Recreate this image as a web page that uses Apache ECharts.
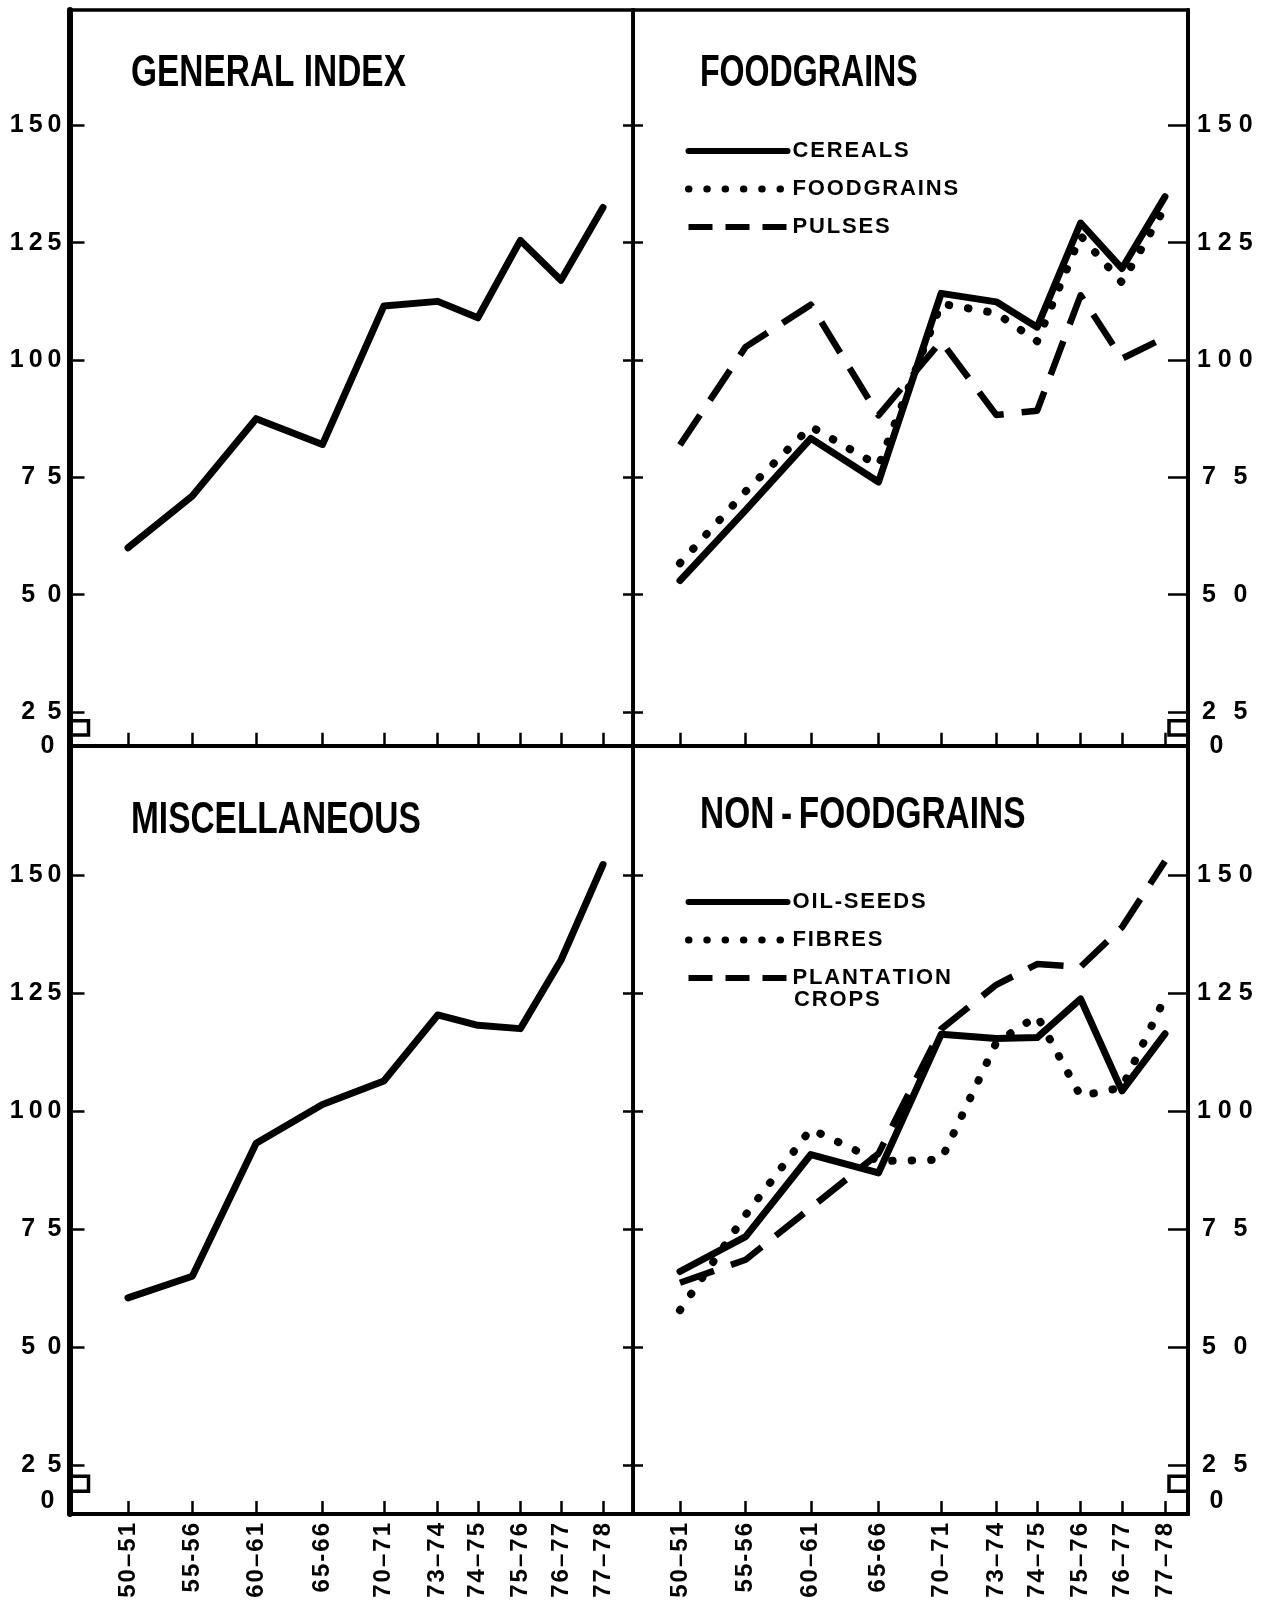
<!DOCTYPE html>
<html><head><meta charset="utf-8">
<script src="https://cdn.jsdelivr.net/npm/echarts@6/dist/echarts.min.js"></script>
<style>html,body{margin:0;padding:0;background:#fff}#c{width:1270px;height:1601px}</style>
</head><body><div id="c"></div>
<script>
// ---------- data ----------
const periods = ['50–51','55-56','60–61','65-66','70–71','73–74','74–75','75–76','76–77','77–78'];
// position of each period along the (non-uniform) time axis, in axis units
const periodPos = [0, 6.5, 12.95, 19.65, 25.85, 31.3, 35.35, 39.65, 43.75, 48];
const yTicks = [25, 50, 75, 100, 125, 150];

const generalIndex    = [60, 71, 87.5, 82, 111.5, 112.5, 109, 125.5, 117, 132.5];
const cereals         = [53, 68, 83.3, 74, 114.2, 112.4, 107, 129.2, 119.5, 134.8];
const foodgrains      = [56.7, 72, 85.8, 77.5, 112, 110, 104, 126.5, 116.5, 132.5];
const pulses          = [81.9, 102.8, 111.8, 88.2, 104, 88.3, 89.2, 113.8, 100.3, 104.8];
const miscellaneous   = [60.4, 65, 93.2, 101.4, 106.4, 120.4, 118.2, 117.5, 132, 152.3];
const oilSeeds        = [66, 73.4, 90.8, 86.9, 116.3, 115.4, 115.6, 123.8, 104.3, 116.4];
const fibres          = [57.8, 78, 96.2, 89.4, 89.7, 114.5, 120.2, 103.2, 105, 124];
const plantationCrops = [63.6, 68.5, 79.5, 91, 117.4, 126.8, 131.2, 130.6, 139, 153];

// ---------- layout / style ----------
const INK = '#000';
const FONT = "'Liberation Sans', Arial, sans-serif";
const spaced = (s, sep) => String(s).split('').join(sep);
const nearestIdx = v => { let b = 0; periodPos.forEach((p, i) => { if (Math.abs(p - v) < Math.abs(periodPos[b] - v)) b = i; }); return b; };

const L = 69.5, M = 633, R = 1188, T = 10, H = 745.7, B = 1514;
const panels = [
  {left: L, top: T, width: M - L, height: H - T, xMin: -5.91, xMax: 51.03, yMin: 17.8, yMax: 174.6, zero: 17.8, brk: [23.1, 20.1]},
  {left: M, top: T, width: R - M, height: H - T, xMin: -4.65, xMax: 50.28, yMin: 17.8, yMax: 174.6, zero: 17.8, brk: [23.1, 20.1]},
  {left: L, top: H, width: M - L, height: B - H, xMin: -5.91, xMax: 51.03, yMin: 14.57, yMax: 177.5, zero: 17.2, brk: [22.6, 19.4]},
  {left: M, top: H, width: R - M, height: B - H, xMin: -4.65, xMax: 50.28, yMin: 14.57, yMax: 177.5, zero: 17.2, brk: [22.6, 19.4]}
];

const grid = panels.map(p => ({left: p.left, top: p.top, width: p.width, height: p.height,
  show: true, borderColor: INK, borderWidth: 3.5, backgroundColor: 'transparent', containLabel: false}));

const xAxis = panels.map((p, i) => ({
  type: 'value', gridIndex: i, min: p.xMin, max: p.xMax, position: 'bottom',
  axisLine: {show: true, onZero: false, lineStyle: {color: INK, width: 4}},
  axisTick: {show: true, inside: true, length: 13, customValues: periodPos, lineStyle: {color: INK, width: 2.5}},
  axisLabel: {show: i >= 2, customValues: periodPos, rotate: 90, margin: 9, fontSize: 24, fontWeight: 'bold',
    fontFamily: FONT, color: INK, formatter: v => spaced(periods[nearestIdx(v)], '\u200A')},
  splitLine: {show: false}
}));

const leftFmt = zero => v => {
  if (Math.abs(v - zero) < 0.01) return '0\u2009\u200A';
  const s = String(v);
  return s.length === 3 ? spaced(s, '\u2009') : spaced(s, '\u2002');
};
const rightFmt = zero => v => {
  if (Math.abs(v - zero) < 0.01) return '\u2002' + '0';
  const s = String(v);
  return s.length === 3 ? spaced(s, ' ') : '\u2009' + spaced(s, '\u2002\u2009');
};
const yLabel = {show: true, margin: 8, fontSize: 25, fontWeight: 'bold', fontFamily: FONT, color: INK};
const yAxis = [];
panels.forEach((p, i) => {
  const outerLeft = (i % 2 === 0);
  yAxis.push({
    type: 'value', gridIndex: i, min: p.yMin, max: p.yMax, position: 'left',
    axisLine: {show: true, onZero: false, lineStyle: {color: INK, width: outerLeft ? 6 : 3}},
    axisTick: {show: true, inside: true, length: outerLeft ? 15 : 10, customValues: yTicks, lineStyle: {color: INK, width: 2.5}},
    axisLabel: outerLeft ? Object.assign({customValues: [p.zero].concat(yTicks), formatter: leftFmt(p.zero)}, yLabel) : {show: false},
    splitLine: {show: false}
  });
  yAxis.push({
    type: 'value', gridIndex: i, min: p.yMin, max: p.yMax, position: 'right',
    axisLine: {show: true, onZero: false, lineStyle: {color: INK, width: outerLeft ? 3 : 4}},
    axisTick: {show: true, inside: true, length: outerLeft ? 10 : 20, customValues: yTicks, lineStyle: {color: INK, width: 2.5}},
    axisLabel: outerLeft ? {show: false} : Object.assign({customValues: [p.zero].concat(yTicks), formatter: rightFmt(p.zero)}, yLabel, {margin: 9}),
    splitLine: {show: false}
  });
});

const SOLID = {width: 7, type: 'solid', cap: 'round', join: 'round'};
const DOTS  = {width: 8, type: [0.5, 19], cap: 'round', join: 'round'};
const DASH  = {width: 6.5, type: [36, 18], cap: 'butt', join: 'round'};
const line = (name, values, gi, style) => ({
  type: 'line', name, xAxisIndex: gi, yAxisIndex: gi * 2 + 1,
  data: periodPos.map((p, k) => [p, values[k]]),
  symbol: 'none', silent: true, animation: false, z: 5,
  lineStyle: Object.assign({color: INK}, style), itemStyle: {color: INK}
});

const series = [
  line('GENERAL INDEX', generalIndex, 0, SOLID),
  line('CEREALS', cereals, 1, SOLID),
  line('FOODGRAINS', foodgrains, 1, DOTS),
  line('PULSES', pulses, 1, DASH),
  line('MISCELLANEOUS', miscellaneous, 2, SOLID),
  line('OIL-SEEDS', oilSeeds, 3, SOLID),
  line('FIBRES', fibres, 3, DOTS),
  line('PLANTATION CROPS', plantationCrops, 3, DASH)
];

const legendText = {fontFamily: FONT, fontSize: 22, fontWeight: 'bold', color: INK, lineHeight: 22};
// first word stays beside the key; a second word is set on its own line below
const legendFmt = n => spaced(n.split(' ')[0], '\u200A');
const LEG_SOLID = {type: 'solid', width: 6};
const LEG_DOTS = {type: [0.5, 17.8], width: 7, cap: 'round'};
const LEG_DASH = {type: [24, 13], width: 6};
const legendBase = {orient: 'vertical', itemWidth: 99, itemHeight: 14, itemGap: 16, selectedMode: false,
  textStyle: legendText, formatter: legendFmt, itemStyle: {opacity: 0}, lineStyle: {width: 6, color: INK}};
const LEG_LEFT = 680, LEG2_TOP = 886;
const legend = [
  Object.assign({left: LEG_LEFT, top: 135, data: [
    {name: 'CEREALS', lineStyle: LEG_SOLID}, {name: 'FOODGRAINS', lineStyle: LEG_DOTS}, {name: 'PULSES', lineStyle: LEG_DASH}]}, legendBase),
  Object.assign({left: LEG_LEFT, top: LEG2_TOP, data: [
    {name: 'OIL-SEEDS', lineStyle: LEG_SOLID}, {name: 'FIBRES', lineStyle: LEG_DOTS}, {name: 'PLANTATION CROPS', lineStyle: LEG_DASH}]}, legendBase)
];

const chart = echarts.init(document.getElementById('c'));
chart.setOption({animation: false, backgroundColor: '#fff', grid, xAxis, yAxis, series, legend});

// panel titles (condensed bold), second legend line and axis-break brackets
const titleFont = "bold 44px 'Liberation Sans', Arial, sans-serif";
const titles = [
  {text: 'GENERAL INDEX', x: 131, y: 74},
  {text: 'FOODGRAINS', x: 700, y: 74, sx: 0.73},
  {text: 'MISCELLANEOUS', x: 131, y: 821},
  {text: 'NON\u2009-\u2009FOODGRAINS', x: 700, y: 816}
];
const graphic = titles.map(t => ({type: 'text', x: t.x, y: t.y, scaleX: t.sx || 0.76, silent: true, z: 20,
  style: {text: t.text, font: titleFont, fill: INK, textAlign: 'left', textVerticalAlign: 'middle'}}));
// row pitch of the vertical legend = text line height + item gap
const rowPitch = legendText.lineHeight + legendBase.itemGap;
graphic.push({type: 'text', silent: true, z: 20,
  x: LEG_LEFT + legendBase.itemWidth + 5 + 10, y: LEG2_TOP + 2 * rowPitch + legendText.lineHeight * 1.5 + 5,
  style: {text: spaced('CROPS', '\u200A'), font: "bold 22px 'Liberation Sans', Arial, sans-serif", fill: INK,
    textAlign: 'left', textVerticalAlign: 'middle'}});
panels.forEach((p, i) => {
  const outerLeft = (i % 2 === 0);
  const xv = outerLeft ? p.xMin : p.xMax;
  const a = chart.convertToPixel({xAxisIndex: i, yAxisIndex: i * 2}, [xv, p.brk[0]]);
  const b = chart.convertToPixel({xAxisIndex: i, yAxisIndex: i * 2}, [xv, p.brk[1]]);
  const d = outerLeft ? 19 : -19;
  graphic.push({type: 'polyline', silent: true, z: 10,
    shape: {points: [[a[0], a[1]], [a[0] + d, a[1]], [a[0] + d, b[1]], [a[0], b[1]]]},
    style: {stroke: INK, lineWidth: 3.5, fill: null}});
});
chart.setOption({graphic});
</script>
</body></html>
